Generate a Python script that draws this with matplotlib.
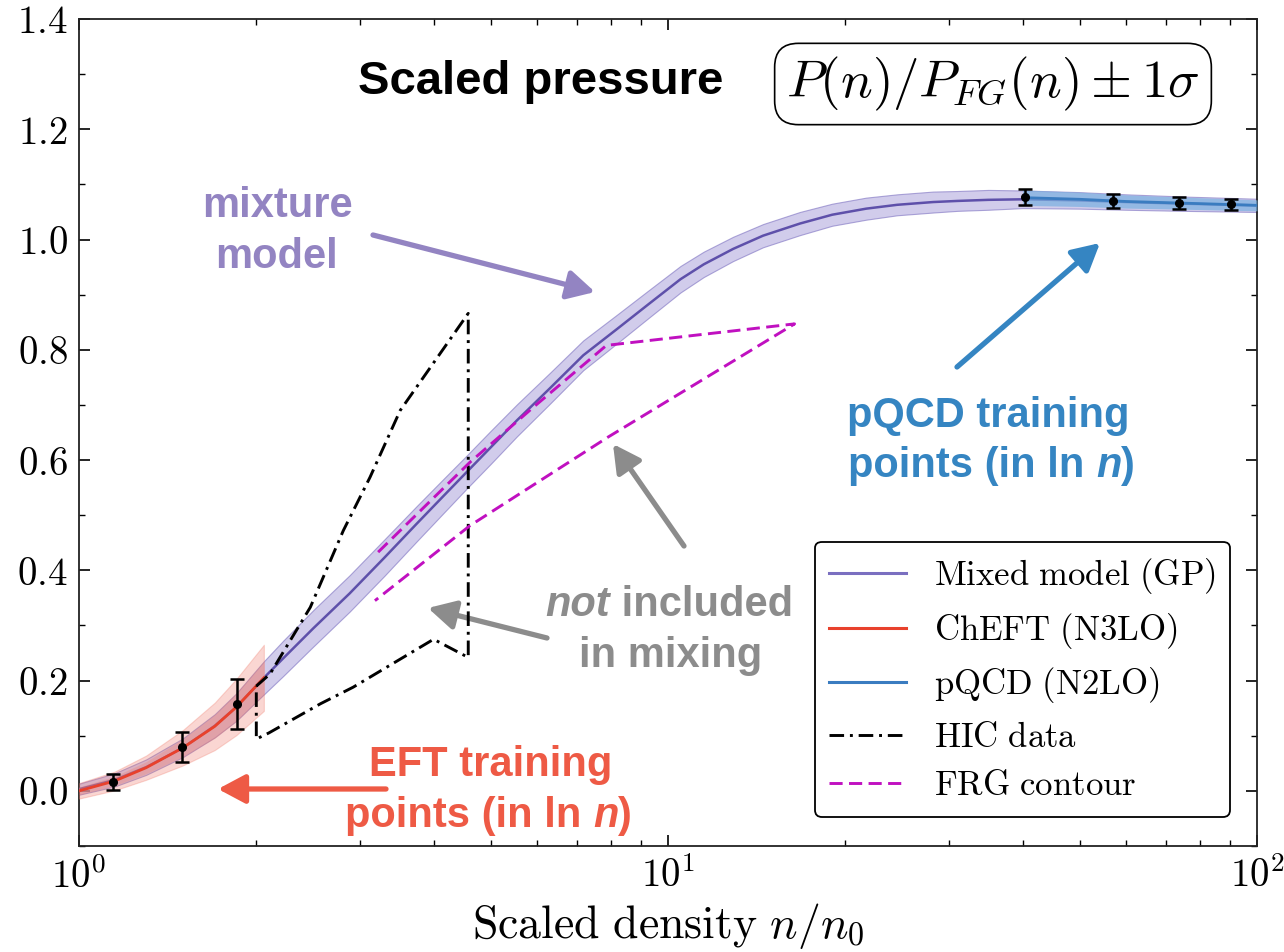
import numpy as np
import matplotlib
matplotlib.use("Agg")
import matplotlib.pyplot as plt
from matplotlib.ticker import FuncFormatter, MultipleLocator, LogLocator

plt.rcParams['mathtext.fontset'] = 'cm'
plt.rcParams['font.family'] = ['DejaVu Serif']

# mixed model (GP) mean and 1 sigma
n_gp = [1.0, 1.15, 1.3, 1.5, 1.7, 1.85, 2.06, 2.22, 2.5, 2.88, 3.3, 3.74, 4.15, 4.55,
        5.0, 5.54, 6.3, 7.18, 8.2, 9.3, 10.5, 11.5, 12.9, 14.5, 16.75, 19, 21.7, 24.5,
        28.2, 31, 35, 40, 50, 60, 75, 100]
p_gp = [0.003, 0.020, 0.043, 0.078, 0.118, 0.152, 0.205, 0.240, 0.295, 0.358, 0.423, 0.484,
        0.534, 0.578, 0.623, 0.672, 0.730, 0.790, 0.838, 0.884, 0.928, 0.955, 0.983, 1.007,
        1.029, 1.045, 1.056, 1.063, 1.068, 1.070, 1.072, 1.073, 1.071, 1.068, 1.065, 1.062]
s_gp = [0.010, 0.012, 0.014, 0.017, 0.021, 0.025, 0.030, 0.032, 0.033, 0.033, 0.033, 0.032,
        0.031, 0.030, 0.030, 0.029, 0.028, 0.027, 0.026, 0.025, 0.024, 0.023, 0.022, 0.021,
        0.021, 0.020, 0.020, 0.019, 0.019, 0.018, 0.018, 0.016, 0.015, 0.014, 0.013, 0.012]

# ChEFT (N3LO)
n_eft = [1.0, 1.15, 1.3, 1.5, 1.7, 1.85, 2.06]
p_eft = [0.0, 0.018, 0.042, 0.078, 0.117, 0.152, 0.205]
s_eft = [0.014, 0.017, 0.022, 0.032, 0.043, 0.051, 0.060]

# pQCD (N2LO)
n_qcd = [40, 50, 60, 75, 100]
p_qcd = [1.076, 1.073, 1.069, 1.066, 1.062]
s_qcd = [0.014, 0.013, 0.012, 0.011, 0.010]

# training points
n_tr_eft = [1.142, 1.496, 1.853]
p_tr_eft = [0.016, 0.080, 0.157]
e_tr_eft = [0.015, 0.027, 0.045]
n_tr_qcd = [40.4, 56.9, 73.7, 90.3]
p_tr_qcd = [1.077, 1.070, 1.067, 1.064]
e_tr_qcd = [0.014, 0.013, 0.011, 0.010]

# HIC data contour
n_hic = [2.0, 2.11, 2.47, 2.81, 3.12, 3.51, 4.58, 4.58, 4.0, 2.92, 2.57, 2.1, 2.0, 2.0]
p_hic = [0.19, 0.212, 0.333, 0.472, 0.569, 0.690, 0.866, 0.242, 0.275, 0.188, 0.158, 0.105, 0.094, 0.19]

# FRG contour
n_frg = [3.22, 4.61, 5.91, 7.86, 16.4, 7.92, 4.61, 3.18]
p_frg = [0.433, 0.596, 0.696, 0.808, 0.847, 0.642, 0.481, 0.345]

W, H = 1284, 952
fig = plt.figure(figsize=(W / 100, H / 100), dpi=100)
L, R, T, B = 79, 1257, 19, 846
ax = fig.add_axes([L / W, 1 - B / H, (R - L) / W, (B - T) / H])


def axf(px, py):
    return ((px - L) / (R - L), (B - py) / (B - T))


purple = '#5e50aa'
red = '#e8412c'
blue = '#3a7cc0'
magenta = '#c010c0'
hic_dash = (5, 2, 1, 2)
frg_dash = (4.5, 2.2)

n_gp_a = np.array(n_gp); p_gp_a = np.array(p_gp); s_gp_a = np.array(s_gp)
ax.fill_between(n_gp_a, p_gp_a - s_gp_a, p_gp_a + s_gp_a, color='#b3abdf', alpha=0.6,
                edgecolor='#7b6fc0', lw=0.8, zorder=2)
ax.plot(n_gp, p_gp, color=purple, lw=1.8, zorder=3)

n_eft_a = np.array(n_eft); p_eft_a = np.array(p_eft); s_eft_a = np.array(s_eft)
ax.fill_between(n_eft_a, p_eft_a - s_eft_a, p_eft_a + s_eft_a, color='#f07a6a', alpha=0.3,
                edgecolor='#f07a6a', lw=0.8, zorder=3)
ax.fill_between(n_eft_a, p_eft_a - 0.5 * s_eft_a, p_eft_a + 0.5 * s_eft_a, color='#f07a6a',
                alpha=0.3, lw=0, zorder=3)
ax.plot(n_eft, p_eft, color=red, lw=2, zorder=4)

n_qcd_a = np.array(n_qcd); p_qcd_a = np.array(p_qcd); s_qcd_a = np.array(s_qcd)
ax.fill_between(n_qcd_a, p_qcd_a - s_qcd_a, p_qcd_a + s_qcd_a, color='#79b0e0', alpha=0.7,
                lw=0, zorder=3)
ax.plot(n_qcd, p_qcd, color=blue, lw=2, zorder=4)

ax.plot(n_hic, p_hic, color='black', lw=2.1, dashes=hic_dash, zorder=5)
ax.plot(n_frg, p_frg, color=magenta, lw=2.1, dashes=frg_dash, zorder=5)

ax.errorbar(n_tr_eft, p_tr_eft, yerr=e_tr_eft, fmt='o', color='black', ms=5.5,
            capsize=5, elinewidth=1.8, capthick=1.8, zorder=6)
ax.errorbar(n_tr_qcd, p_tr_qcd, yerr=e_tr_qcd, fmt='o', color='black', ms=5.5,
            capsize=5, elinewidth=1.8, capthick=1.8, zorder=6)

# legend handles
ax.plot([], [], color='#7a6fc0', lw=2.2, label=r'$\mathrm{Mixed\ model\ (GP)}$')
ax.plot([], [], color=red, lw=2.2, label=r'$\mathrm{ChEFT\ (N3LO)}$')
ax.plot([], [], color=blue, lw=2.2, label=r'$\mathrm{pQCD\ (N2LO)}$')
ax.plot([], [], color='black', lw=2.1, dashes=hic_dash, label=r'$\mathrm{HIC\ data}$')
ax.plot([], [], color=magenta, lw=2.1, dashes=frg_dash, label=r'$\mathrm{FRG\ contour}$')

ax.set_xscale('log')
ax.set_xlim(1, 100)
ax.set_ylim(-0.1, 1.4)
ax.yaxis.set_major_locator(MultipleLocator(0.2))
ax.yaxis.set_minor_locator(MultipleLocator(0.1))
ax.xaxis.set_major_locator(LogLocator(base=10))
ax.xaxis.set_minor_locator(LogLocator(base=10, subs=np.arange(2, 10)))
ax.xaxis.set_minor_formatter(FuncFormatter(lambda v, _: ''))
ax.xaxis.set_major_formatter(FuncFormatter(lambda v, _: r'$10^{%d}$' % round(np.log10(v))))
ax.yaxis.set_major_formatter(FuncFormatter(lambda v, _: r'$%.1f$' % v))
ax.tick_params(which='both', direction='in', top=True, right=True, labelsize=28)
ax.tick_params(which='major', length=8, width=1.2)
ax.tick_params(which='minor', length=4, width=1)
ax.tick_params(axis='y', pad=8)
ax.tick_params(axis='x', pad=8)
for s in ax.spines.values():
    s.set_linewidth(1.3)
    s.set_color('#222222')
ax.set_xlabel(r'$\mathrm{Scaled\ density}\ n/n_0$', fontsize=33, labelpad=4)

leg = ax.legend(loc='lower right', bbox_to_anchor=axf(1230, 817), borderaxespad=0,
                fontsize=25, handlelength=2.2, labelspacing=0.42, framealpha=1,
                edgecolor='black', fancybox=True, borderpad=0.42, handletextpad=0.8)
leg.get_frame().set_linewidth(1.3)

sans = ['Liberation Sans', 'DejaVu Sans']
ax.text(*axf(541, 82), 'Scaled pressure', transform=ax.transAxes, fontsize=34,
        fontweight='bold', family=sans, ha='center', va='center')
ax.text(*axf(993, 84), r'$P(n)/P_{FG}(n) \pm 1\sigma$', transform=ax.transAxes,
        fontsize=38, ha='center', va='center',
        bbox=dict(boxstyle='round,pad=0.22,rounding_size=0.45', fc='white', ec='black', lw=1.2))

c_mix = '#9384c2'
c_qcd = '#3585c2'
c_gray = '#8c8c8c'
c_eft = '#ee5a45'
big = dict(fontsize=30, fontweight='bold', family=sans)


def line(px, py, s, color, ha='center', **kw):
    return ax.text(*axf(px, py), s, transform=ax.transAxes, color=color, ha=ha,
                   va='baseline', **big, **kw)


def tail(prev, s, color, **kw):
    return ax.annotate(s, xy=(1, 0), xycoords=prev, ha='left', va='bottom', color=color,
                       **big, **kw)


line(277, 217, 'mixture', c_mix)
line(277, 268, 'model', c_mix)

line(988, 427, 'pQCD training', c_qcd)
t = line(848, 477, 'points (in ln ', c_qcd, ha='left')
t = tail(t, 'n', c_qcd, style='italic')
tail(t, ')', c_qcd)

t = line(545, 616, 'not', c_gray, ha='left', style='italic')
tail(t, ' included', c_gray)
line(671, 667, 'in mixing', c_gray)

line(491, 776, 'EFT training', c_eft)
t = line(345, 827, 'points (in ln ', c_eft, ha='left')
t = tail(t, 'n', c_eft, style='italic')
tail(t, ')', c_eft)


def arrow(start, tip, color):
    ax.annotate('', xy=axf(*tip), xytext=axf(*start), xycoords='axes fraction',
                textcoords='axes fraction',
                arrowprops=dict(arrowstyle='-|>,head_length=0.75,head_width=0.4',
                                mutation_scale=22, lw=3.8, color=color,
                                shrinkA=0, shrinkB=0, capstyle='round'))


arrow((373, 235), (595, 292), c_mix)
arrow((957, 367), (1100, 243), c_qcd)
arrow((684, 546), (613, 444), c_gray)
arrow((547, 638), (428, 608), c_gray)
arrow((386, 789), (218, 789), c_eft)

fig.savefig('out.png', dpi=100)
